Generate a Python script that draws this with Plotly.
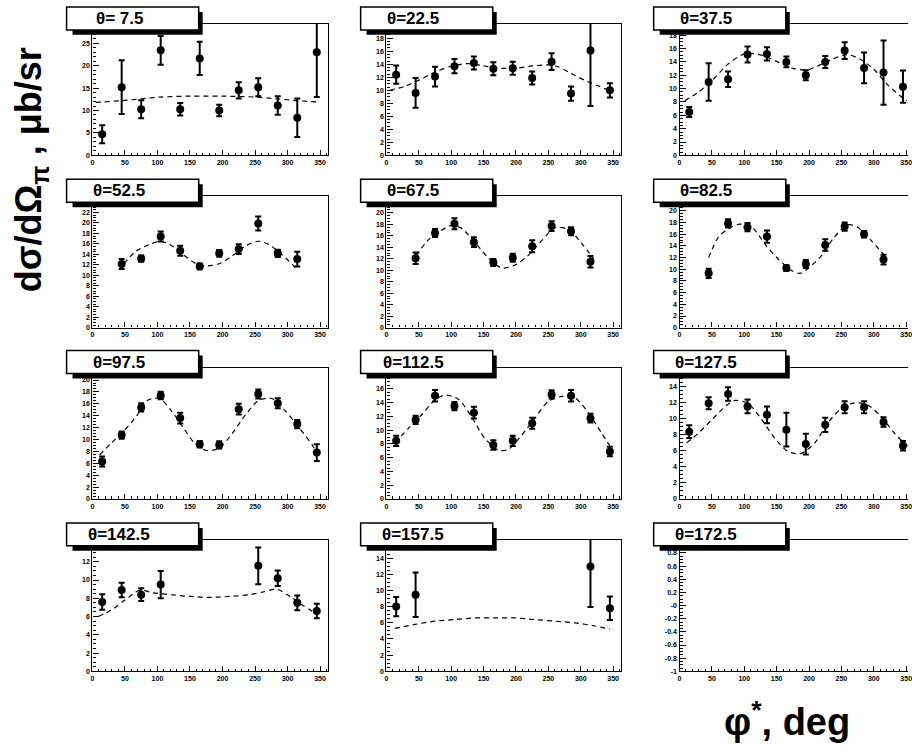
import plotly.graph_objects as go

# ---------------- data ----------------
theta_labels = ["θ= 7.5", "θ=22.5", "θ=37.5", "θ=52.5", "θ=67.5", "θ=82.5",
                "θ=97.5", "θ=112.5", "θ=127.5", "θ=142.5", "θ=157.5", "θ=172.5"]
phi_bins = [15, 45, 75, 105, 135, 165, 195, 225, 255, 285, 315, 345]
x_ticks = [0, 50, 100, 150, 200, 250, 300, 350]

sig_07 = [4.7, 15.2, 10.3, 23.4, 10.3, 21.6, 10.0, 14.5, 15.2, 11.1, 8.4, 23.0]
err_07 = [2.0, 6.0, 2.0, 3.2, 1.4, 3.7, 1.3, 1.8, 2.0, 2.05, 4.3, 10.0]
sig_22 = [12.4, 9.6, 12.1, 13.7, 14.2, 13.3, 13.4, 11.9, 14.4, 9.5, 16.1, 10.0]
err_22 = [1.4, 2.3, 1.5, 1.1, 1.0, 1.0, 1.0, 1.0, 1.3, 1.1, 8.5, 1.1]
sig_37 = [6.5, 11.0, 11.4, 15.1, 15.2, 14.0, 12.0, 14.0, 15.7, 13.1, 12.4, 10.3]
err_37 = [0.75, 2.8, 1.15, 1.2, 1.0, 0.8, 0.75, 0.9, 1.25, 2.3, 4.8, 2.4]
sig_52 = [None, 12.15, 13.2, 17.4, 14.7, 11.7, 14.2, 15.0, 19.9, 14.2, 13.1, None]
err_52 = [None, 0.95, 0.6, 0.95, 0.95, 0.55, 0.65, 0.95, 1.35, 0.7, 1.4, None]
sig_67 = [None, 12.1, 16.5, 18.1, 14.9, 11.35, 12.2, 14.2, 17.7, 16.8, 11.5, None]
err_67 = [None, 1.0, 0.7, 0.95, 0.85, 0.6, 0.7, 1.05, 0.85, 0.7, 1.0, None]
sig_82 = [None, 9.3, 17.85, 17.2, 15.6, 10.2, 10.9, 14.15, 17.3, 16.0, 11.65, None]
err_82 = [None, 0.8, 0.7, 0.7, 1.05, 0.5, 0.7, 1.0, 0.7, 0.55, 0.85, None]
sig_97 = [6.3, 10.75, 15.4, 17.4, 13.6, 9.2, 9.1, 15.1, 17.65, 16.1, 12.6, 7.8]
err_97 = [0.85, 0.6, 0.7, 0.65, 0.9, 0.55, 0.6, 0.9, 0.75, 0.85, 0.7, 1.4]
sig_112 = [8.45, 11.5, 15.0, 13.5, 12.55, 7.85, 8.45, 11.0, 15.2, 15.0, 11.75, 6.9]
err_112 = [0.75, 0.6, 0.85, 0.6, 0.85, 0.7, 0.75, 0.8, 0.6, 0.85, 0.65, 0.7]
sig_127 = [8.4, 11.95, 13.1, 11.55, 10.5, 8.65, 6.85, 9.25, 11.45, 11.45, 9.6, 6.65]
err_127 = [0.8, 0.75, 0.85, 0.85, 1.05, 2.1, 1.3, 0.9, 0.75, 0.75, 0.6, 0.6]
sig_142 = [7.6, 8.9, 8.4, 9.5, None, None, None, None, 11.55, 10.2, 7.5, 6.6]
err_142 = [0.85, 0.8, 0.7, 1.5, None, None, None, None, 2.0, 0.85, 0.8, 0.8]
sig_157 = [8.0, 9.45, None, None, None, None, None, None, None, None, 12.95, 7.8]
err_157 = [1.2, 2.75, None, None, None, None, None, None, None, None, 5.0, 1.45]
sig_172 = [None] * 12
err_172 = [None] * 12

# dashed model curves
fit_phi_07 = [5, 45, 75, 105, 150, 200, 250, 285, 315, 345]
fit_07 = [11.8, 12.2, 12.6, 13.0, 13.2, 13.2, 13.0, 12.6, 12.2, 11.9]
fit_phi_22 = [5, 28, 51, 77, 100, 125, 148, 171, 199, 222, 247, 263, 283, 309, 329, 347]
fit_22 = [10.0, 10.6, 11.6, 12.9, 13.7, 14.1, 13.8, 13.4, 13.4, 13.7, 13.9, 13.7, 12.7, 11.4, 10.6, 9.8]
fit_phi_37 = [8, 28, 49, 74, 97, 110, 131, 154, 177, 197, 218, 236, 259, 279, 300, 321, 341, 351]
fit_37 = [8.2, 9.4, 11.1, 13.6, 15.1, 15.3, 14.9, 13.9, 13.0, 12.8, 13.6, 14.4, 15.1, 14.4, 12.9, 10.6, 8.9, 8.2]
fit_phi_52 = [48, 68, 88, 104, 119, 139, 160, 175, 195, 215, 235, 255, 271, 291, 312]
fit_52 = [12.2, 14.7, 15.9, 16.5, 15.9, 14.0, 12.2, 11.8, 12.2, 13.7, 15.6, 16.5, 15.9, 14.0, 11.5]
fit_phi_67 = [46, 62, 80, 100, 116, 137, 157, 178, 198, 219, 240, 260, 281, 302, 320]
fit_67 = [12.5, 15.0, 16.6, 17.8, 17.3, 14.8, 12.2, 10.4, 10.9, 12.6, 15.2, 17.4, 17.1, 14.6, 12.0]
fit_phi_82 = [45, 60, 75, 91, 111, 132, 152, 173, 186, 198, 219, 239, 260, 275, 296, 317]
fit_82 = [12.0, 15.5, 16.9, 17.7, 17.3, 14.3, 11.8, 9.8, 9.3, 10.1, 12.3, 15.5, 17.6, 17.2, 14.9, 12.3]
fit_phi_97 = [11, 29, 47, 67, 85, 103, 121, 139, 157, 174, 194, 215, 235, 256, 276, 296, 317, 338, 345]
fit_97 = [7.4, 9.4, 11.3, 13.8, 16.6, 16.9, 14.9, 12.1, 9.4, 8.2, 8.5, 11.0, 14.1, 16.6, 16.9, 14.9, 12.1, 9.1, 7.7]
fit_phi_112 = [13, 34, 54, 75, 90, 111, 131, 152, 173, 188, 209, 229, 250, 271, 291, 312, 332, 345]
fit_112 = [8.1, 10.3, 12.2, 14.4, 15.1, 14.5, 12.0, 8.8, 7.1, 7.2, 9.3, 11.7, 14.2, 14.9, 14.7, 12.5, 9.6, 7.7]
fit_phi_127 = [11, 29, 50, 73, 86, 106, 127, 147, 168, 188, 209, 229, 250, 270, 291, 311, 332, 352]
fit_127 = [7.0, 8.2, 9.9, 11.7, 12.3, 11.9, 9.9, 7.6, 5.9, 5.7, 7.0, 9.5, 11.3, 12.0, 11.7, 10.3, 8.2, 6.6]
fit_phi_142 = [9, 29, 50, 73, 93, 119, 150, 180, 211, 242, 263, 283, 304, 324, 345]
fit_142 = [6.0, 6.7, 7.8, 8.9, 8.6, 8.4, 8.2, 8.1, 8.2, 8.4, 8.7, 9.0, 8.2, 7.2, 6.3]
fit_phi_157 = [13, 44, 75, 106, 137, 168, 198, 229, 260, 291, 322, 345]
fit_157 = [5.3, 5.8, 6.2, 6.4, 6.6, 6.6, 6.6, 6.4, 6.2, 6.0, 5.6, 5.2]

y_max = [29.3, 20.2, 19.7, 25.1, 22.9, 22.5, 22.1, 19.1, 16.4, 14.4, 16.25, 1.0]
y_min = [0, 0, 0, 0, 0, 0, 0, 0, 0, 0, 0, -1.0]
y_dtick = [5, 2, 2, 2, 2, 2, 2, 2, 2, 2, 2, 0.2]
y_top_label = [25, 18, 18, 22, 20, 20, 20, 16, 14, 12, 14, 0.8]   # highest label not under the title box
y_minor = [1, 0.5, 0.5, 0.5, 0.5, 0.5, 0.5, 0.5, 0.5, 0.5, 0.5, 0.05]
empty_ticks = [-1, -0.8, -0.6, -0.4, -0.2, 0, 0.2, 0.4, 0.6, 0.8]
empty_ticktext = ["-1", "-0.8", "-0.6", "-0.4", "-0.2", "-0", "0.2", "0.4", "0.6", "0.8"]

sigs = [sig_07, sig_22, sig_37, sig_52, sig_67, sig_82, sig_97, sig_112, sig_127, sig_142, sig_157, sig_172]
errs = [err_07, err_22, err_37, err_52, err_67, err_82, err_97, err_112, err_127, err_142, err_157, err_172]
fit_phis = [fit_phi_07, fit_phi_22, fit_phi_37, fit_phi_52, fit_phi_67, fit_phi_82,
            fit_phi_97, fit_phi_112, fit_phi_127, fit_phi_142, fit_phi_157, None]
fits = [fit_07, fit_22, fit_37, fit_52, fit_67, fit_82, fit_97, fit_112, fit_127, fit_142, fit_157, None]

# ---------------- layout geometry (pixels) ----------------
W, H = 912, 756
col_left = [91, 387, 682]
col_right = [328, 623, 912]
col_xmax = [362, 362, 362 * (912 - 682) / 236]
row_top = [24, 197, 369, 542]
frame_h = 132

FONT = "Liberation Sans, Arial, Helvetica, sans-serif"

def px(x):
    return x / W

def py(y):
    return 1 - y / H

fig = go.Figure()
shapes = []
annotations = []
layout = {}

for i in range(12):
    r, c = divmod(i, 3)
    n = i + 1
    xa = "x" if n == 1 else f"x{n}"
    ya = "y" if n == 1 else f"y{n}"
    top = row_top[r]
    bot = top + frame_h

    xs = [p for p, s in zip(phi_bins, sigs[i]) if s is not None]
    ys = [s for s in sigs[i] if s is not None]
    es = [e for s, e in zip(sigs[i], errs[i]) if s is not None]
    if fits[i] is not None:
        fig.add_trace(go.Scatter(
            x=fit_phis[i], y=fits[i], mode="lines", xaxis=xa, yaxis=ya,
            line=dict(color="black", width=1.2, dash="5px,4px", shape="spline", smoothing=0.8),
            hoverinfo="skip", showlegend=False))
    if xs:
        fig.add_trace(go.Scatter(
            x=xs, y=ys, mode="markers", xaxis=xa, yaxis=ya,
            marker=dict(color="black", size=8),
            error_y=dict(type="data", array=es, visible=True, color="black",
                         thickness=2, width=3),
            showlegend=False))
    else:
        fig.add_trace(go.Scatter(x=[None], y=[None], mode="markers", xaxis=xa, yaxis=ya,
                                 showlegend=False))

    xkey = "xaxis" if n == 1 else f"xaxis{n}"
    ykey = "yaxis" if n == 1 else f"yaxis{n}"
    tickfont = dict(family=FONT, size=7, color="black", weight="bold")
    layout[xkey] = dict(
        domain=[px(col_left[c]), px(col_right[c])], anchor=ya,
        range=[0, col_xmax[c]], tickvals=x_ticks,
        showline=True, linecolor="black", linewidth=1.4, mirror=True,
        ticks="inside", ticklen=5, tickwidth=1.3, tickcolor="black",
        minor=dict(ticks="inside", ticklen=2.5, tickwidth=1, dtick=10, tick0=0, tickcolor="black"),
        showgrid=False, zeroline=False, tickfont=tickfont, ticklabeloverflow="allow")
    yax = dict(
        domain=[py(bot), py(top)], anchor=xa,
        range=[y_min[i], y_max[i]],
        showline=True, linecolor="black", linewidth=1.4, mirror=(c < 2),
        ticks="inside", ticklen=6, tickwidth=1.3, tickcolor="black",
        minor=dict(ticks="inside", ticklen=3, tickwidth=1, dtick=y_minor[i], tick0=0, tickcolor="black"),
        showgrid=False, zeroline=False, tickfont=tickfont, ticklabeloverflow="allow")
    if i == 11:
        yax["tickvals"] = empty_ticks
        yax["ticktext"] = empty_ticktext
        yax["minor"]["tick0"] = -1
    else:
        nt = int(round(y_top_label[i] / y_dtick[i]))
        yax["tickvals"] = [k * y_dtick[i] for k in range(nt + 1)]
    layout[ykey] = yax

    # title box with shadow
    bl = col_left[c] - 26
    br = bl + 133
    bt = top - 17
    bb = top + 6
    shapes.append(dict(type="rect", xref="paper", yref="paper",
                       x0=px(bl + 6), x1=px(br + 4), y0=py(bb + 5), y1=py(bt + 5),
                       fillcolor="black", line=dict(width=0), layer="above"))
    shapes.append(dict(type="rect", xref="paper", yref="paper",
                       x0=px(bl), x1=px(br), y0=py(bb), y1=py(bt),
                       fillcolor="white", line=dict(color="black", width=1.5), layer="above"))
    annotations.append(dict(xref="paper", yref="paper", x=px(bl + 53), y=py((bt + bb) / 2),
                            text=theta_labels[i], showarrow=False, xanchor="center", yanchor="middle",
                            font=dict(family=FONT, size=17, color="black", weight="bold")))

annotations.append(dict(xref="paper", yref="paper", x=px(30), y=py(170),
                        text="dσ/dΩ<sub>π</sub> , μb/sr", textangle=-90, showarrow=False,
                        xanchor="center", yanchor="middle",
                        font=dict(family=FONT, size=36, color="black", weight="bold")))
annotations.append(dict(xref="paper", yref="paper", x=px(790), y=py(722),
                        text="φ<sup>*</sup>, deg", showarrow=False,
                        xanchor="center", yanchor="middle",
                        font=dict(family=FONT, size=38, color="black", weight="bold")))

fig.update_layout(width=W, height=H, margin=dict(l=0, r=0, t=0, b=0),
                  paper_bgcolor="white", plot_bgcolor="white",
                  shapes=shapes, annotations=annotations, **layout)

fig.write_html("out.html")
